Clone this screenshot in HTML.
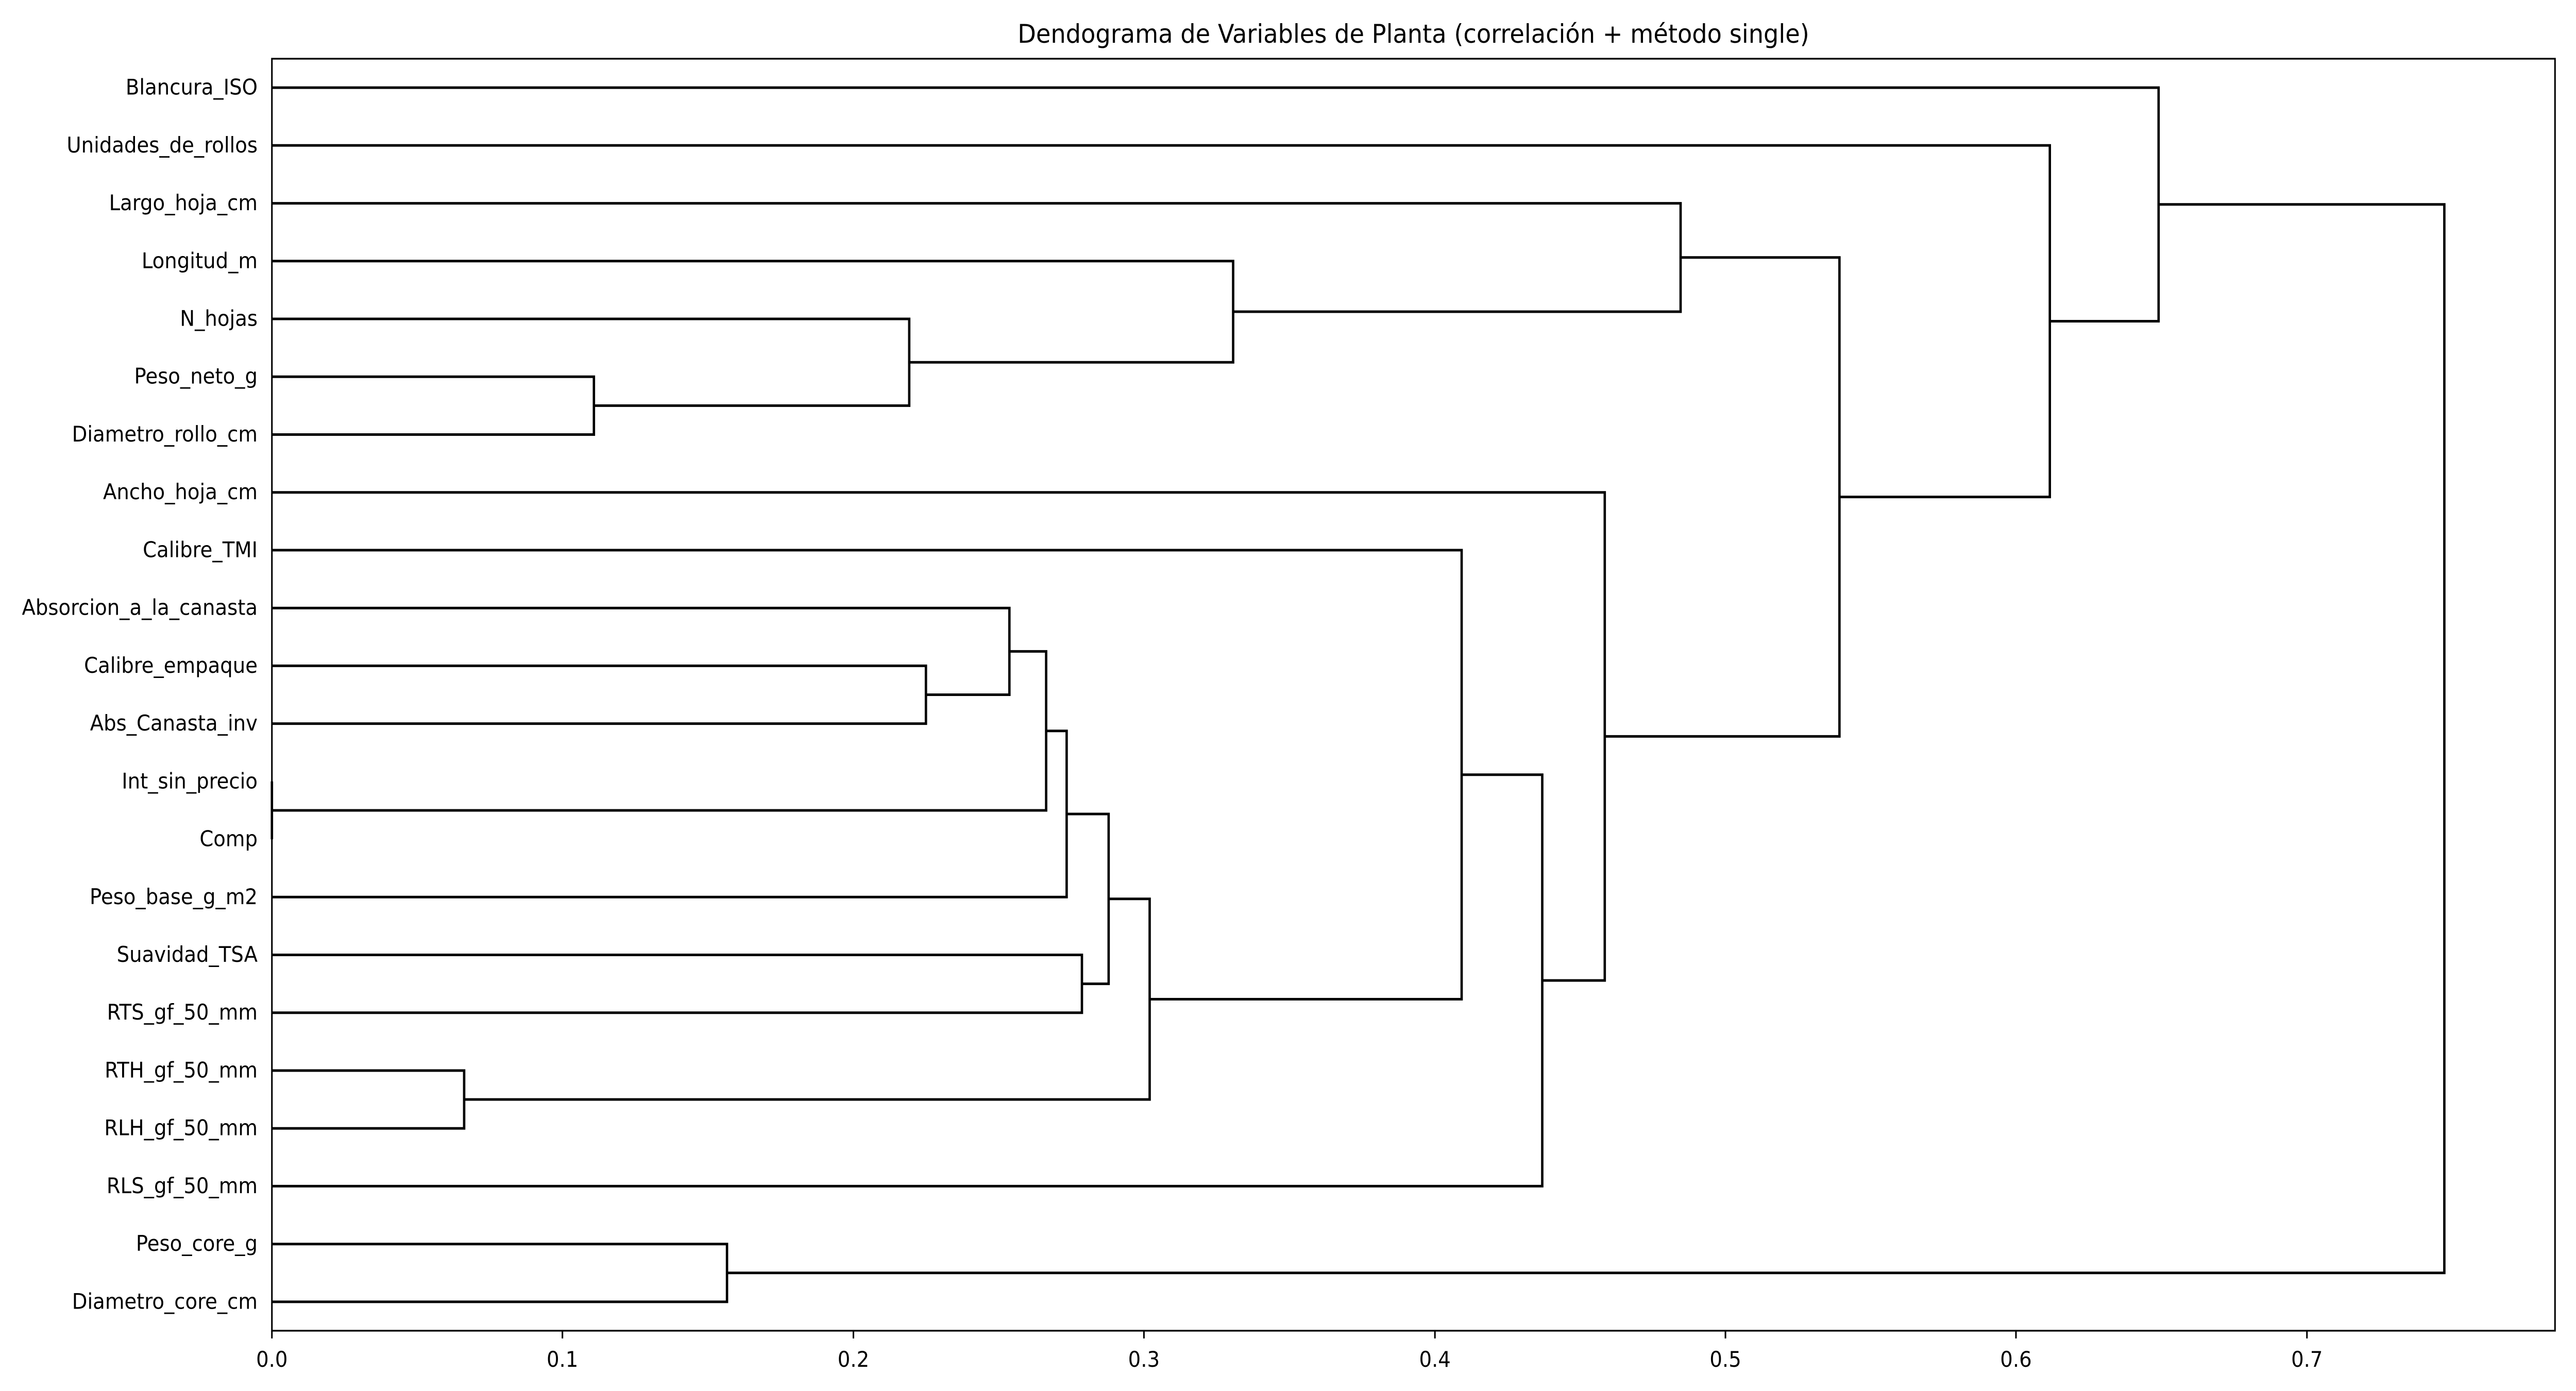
<!DOCTYPE html>
<html><head><meta charset="utf-8"><style>html,body{margin:0;padding:0;background:#fff;overflow:hidden;width:100%;height:100%}svg{display:block;width:100vw;height:100vh}</style></head>
<body>
<svg viewBox="0 0 5400 2700" preserveAspectRatio="none" xmlns="http://www.w3.org/2000/svg" font-family="DejaVu Sans, Liberation Sans, sans-serif">
<rect width="5400" height="2700" fill="#fff"/>
<text x="2963" y="83" font-size="50" text-anchor="middle">Dendograma de Variables de Planta (correlación + método single)</text>
<g fill="none" stroke="#000" stroke-width="5" stroke-linejoin="miter" stroke-linecap="butt">
<path d="M570,731.2H1245V843.5H570"/>
<path d="M570,619H1906V787.4H1245"/>
<path d="M570,506.8H2585V703.2H1906"/>
<path d="M570,394.6H3523V605H2585"/>
<path d="M570,1292.4H1941V1404.6H570"/>
<path d="M570,1180.2H2116V1348.5H1941"/>
<path d="M570,1516.8H570V1629.1H570"/>
<path d="M2116,1264.4H2193V1573H570"/>
<path d="M2193,1418.7H2236V1741.3H570"/>
<path d="M570,1853.5H2268V1965.7H570"/>
<path d="M2236,1580H2324V1909.6H2268"/>
<path d="M570,2078H973V2190.2H570"/>
<path d="M2324,1744.8H2410V2134.1H973"/>
<path d="M570,1067.9H3064V1939.5H2410"/>
<path d="M3064,1503.7H3233V2302.4H570"/>
<path d="M570,955.7H3364V1903.1H3233"/>
<path d="M3523,499.8H3856V1429.4H3364"/>
<path d="M570,282.3H4297V964.6H3856"/>
<path d="M570,170.1H4525V623.5H4297"/>
<path d="M570,2414.7H1524V2526.9H570"/>
<path d="M4525,396.8H5124V2470.8H1524"/>
</g>
<rect x="570" y="114" width="4786" height="2469" fill="none" stroke="#000" stroke-width="3.3"/>
<g stroke="#000" stroke-width="3.3">
<line x1="570" y1="2583" x2="570" y2="2598"/>
<line x1="1179" y1="2583" x2="1179" y2="2598"/>
<line x1="1789" y1="2583" x2="1789" y2="2598"/>
<line x1="2398" y1="2583" x2="2398" y2="2598"/>
<line x1="3008" y1="2583" x2="3008" y2="2598"/>
<line x1="3617" y1="2583" x2="3617" y2="2598"/>
<line x1="4226" y1="2583" x2="4226" y2="2598"/>
<line x1="4836" y1="2583" x2="4836" y2="2598"/>
</g>
<g font-size="41.7" text-anchor="middle">
<text x="570" y="2653">0.0</text>
<text x="1179" y="2653">0.1</text>
<text x="1789" y="2653">0.2</text>
<text x="2398" y="2653">0.3</text>
<text x="3008" y="2653">0.4</text>
<text x="3617" y="2653">0.5</text>
<text x="4226" y="2653">0.6</text>
<text x="4836" y="2653">0.7</text>
</g>
<g font-size="41.7" text-anchor="end" dominant-baseline="central">
<text x="540" y="170.1">Blancura_ISO</text>
<text x="540" y="282.3">Unidades_de_rollos</text>
<text x="540" y="394.6">Largo_hoja_cm</text>
<text x="540" y="506.8">Longitud_m</text>
<text x="540" y="619">N_hojas</text>
<text x="540" y="731.2">Peso_neto_g</text>
<text x="540" y="843.5">Diametro_rollo_cm</text>
<text x="540" y="955.7">Ancho_hoja_cm</text>
<text x="540" y="1067.9">Calibre_TMI</text>
<text x="540" y="1180.2">Absorcion_a_la_canasta</text>
<text x="540" y="1292.4">Calibre_empaque</text>
<text x="540" y="1404.6">Abs_Canasta_inv</text>
<text x="540" y="1516.8">Int_sin_precio</text>
<text x="540" y="1629.1">Comp</text>
<text x="540" y="1741.3">Peso_base_g_m2</text>
<text x="540" y="1853.5">Suavidad_TSA</text>
<text x="540" y="1965.7">RTS_gf_50_mm</text>
<text x="540" y="2078">RTH_gf_50_mm</text>
<text x="540" y="2190.2">RLH_gf_50_mm</text>
<text x="540" y="2302.4">RLS_gf_50_mm</text>
<text x="540" y="2414.7">Peso_core_g</text>
<text x="540" y="2526.9">Diametro_core_cm</text>
</g>
</svg>
</body></html>
